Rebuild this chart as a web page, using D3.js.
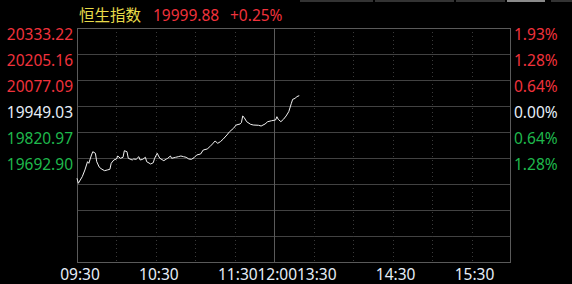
<!DOCTYPE html>
<html>
<head>
<meta charset="utf-8">
<script src="https://cdn.jsdelivr.net/npm/d3@7"></script>
<style>
  html, body { margin: 0; padding: 0; background: #000; }
  svg { display: block; }
  text { font-family: "Noto Sans", "Noto Sans CJK SC", sans-serif; font-size: 15.5px; }
</style>
</head>
<body>
<svg id="chart" width="572" height="284"></svg>
<script>
// index name, last price, change
const indexName = "恒生指数";
const lastPrice = "19999.88";
const lastChange = "+0.25%";

// y tick labels (price side and percent side), top to bottom
const priceTicks = [20333.22, 20205.16, 20077.09, 19949.03, 19820.97, 19692.90];
const pctTicks = ["1.93%", "1.28%", "0.64%", "0.00%", "0.64%", "1.28%"];
const prevClose = 19949.03;

// x tick labels
const timeTicks = ["09:30", "10:30", "11:30", "12:00", "13:30", "14:30", "15:30"];

// intraday series
const times = ["09:30","09:31","09:34","09:36","09:38","09:39","09:41","09:42","09:44","09:45",
  "09:47","09:49","09:51","09:53","09:55","09:56","09:58","10:00","10:01","10:03",
  "10:05","10:06","10:08","10:09","10:12","10:13","10:15","10:17","10:18","10:20",
  "10:22","10:23","10:26","10:28","10:29","10:31","10:32","10:33","10:36","10:38",
  "10:39","10:41","10:42","10:45","10:47","10:49","10:51","10:53","10:55","10:57",
  "10:59","11:01","11:04","11:06","11:09","11:11","11:13","11:15","11:17","11:19",
  "11:21","11:24","11:26","11:29","11:31","11:34","11:35","11:36","11:37","11:39",
  "11:42","11:44","11:48","11:50","11:53","11:55","11:58","13:01","13:02","13:03",
  "13:05","13:07","13:09","13:11","13:13","13:14","13:16","13:17","13:19"];
const prices = [19592.95,19568.33,19600.83,19633.83,19674.70,19666.80,19707.70,19723.90,19716.10,19674.70,
  19647.10,19637.30,19630.40,19633.80,19637.30,19666.80,19683.10,19688.00,19702.80,19691.40,
  19696.40,19728.90,19723.90,19691.40,19683.10,19688.00,19686.50,19699.30,19683.10,19686.50,
  19696.40,19674.70,19663.40,19669.80,19691.40,19716.10,19702.80,19691.40,19679.60,19688.00,
  19691.40,19702.80,19691.40,19696.40,19699.30,19702.80,19699.30,19696.40,19688.00,19686.50,
  19694.40,19707.70,19712.60,19732.30,19737.30,19748.60,19761.90,19776.60,19765.30,19773.20,
  19785.00,19806.20,19822.40,19839.20,19855.40,19860.40,19866.80,19899.80,19893.40,19871.70,
  19858.90,19855.40,19854.00,19850.50,19860.40,19871.70,19876.60,19880.10,19896.30,19883.50,
  19871.70,19883.50,19899.80,19920.90,19962.30,19982.00,19986.90,19994.80,19999.88];

const red = "#f0323c", green = "#1fb84c", neutral = "#e6eef8", yellow = "#e8dc4a";
const gridColor = "#424242", borderColor = "#5a5a5a";

const svg = d3.select("#chart");
const plotLeft = 77, plotRight = 511, plotTop = 28, rowH = 26, rows = 9;
const plotBottom = plotTop + rowH * rows;

// trading minutes since 09:30, lunch break (12:00-13:00) removed
function tradeMinute(t) {
    let p = t.split(":"), m = +p[0] * 60 + +p[1] - 570;
    if (m >= 210) m -= 60;
    return m;
}

const x = d3.scaleLinear().domain([0, 330]).range([plotLeft, plotRight]);
const step = priceTicks[0] - priceTicks[1];
const y = d3.scaleLinear()
    .domain([priceTicks[priceTicks.length - 1] - step, priceTicks[0]])
    .range([plotTop + rowH * 6, plotTop]);

// top tab edges
[[300, 373], [375, 454], [456, 505], [551, 572]].forEach(function (s) {
    svg.append("rect").attr("x", s[0]).attr("y", 0).attr("width", s[1] - s[0]).attr("height", 2).attr("fill", "#333");
});
svg.append("rect").attr("x", 507).attr("y", 0).attr("width", 38).attr("height", 2).attr("fill", "#8a8a8a");

/* horizontal grid lines */
svg.append("g").selectAll("line")
    .data(d3.range(rows + 1))
    .enter().append("line")
    .attr("x1", plotLeft).attr("x2", plotRight)
    .attr("y1", function (i) { return plotTop + i * rowH + 0.5; })
    .attr("y2", function (i) { return plotTop + i * rowH + 0.5; })
    .attr("stroke", gridColor);

/* vertical grid lines, every half hour */
svg.append("g").selectAll("line")
    .data(d3.range(30, 330, 30))
    .enter().append("line")
    .attr("x1", function (d) { return Math.round(x(d)) + 0.5; })
    .attr("x2", function (d) { return Math.round(x(d)) + 0.5; })
    .attr("y1", plotTop).attr("y2", plotBottom)
    .attr("stroke", function (d) { return d === 150 ? borderColor : "#3a3a3a"; })
    .attr("stroke-dasharray", function (d) { return d === 150 ? null : "1,3"; });

svg.append("rect")
    .attr("x", plotLeft + 0.5).attr("y", plotTop + 0.5)
    .attr("width", plotRight - plotLeft - 1).attr("height", plotBottom - plotTop)
    .attr("fill", "none").attr("stroke", borderColor);

/* y labels */
function tickColor(i) { return i < 3 ? red : (i === 3 ? neutral : green); }

svg.append("g").selectAll("text")
    .data(priceTicks)
    .enter().append("text")
    .attr("x", 73).attr("y", function (d) { return y(d) + 12; })
    .attr("text-anchor", "end")
    .attr("fill", function (d, i) { return tickColor(i); })
    .text(function (d) { return d.toFixed(2); });

svg.append("g").selectAll("text")
    .data(pctTicks)
    .enter().append("text")
    .attr("x", 514).attr("y", function (d, i) { return y(priceTicks[i]) + 12; })
    .attr("fill", function (d, i) { return tickColor(i); })
    .text(function (d) { return d; });

/* x labels */
svg.append("g").selectAll("text")
    .data(timeTicks)
    .enter().append("text")
    .attr("x", function (d) { return x(tradeMinute(d)) + 3; })
    .attr("y", 280)
    .attr("text-anchor", "middle")
    .attr("fill", neutral)
    .text(function (d) { return d; });

/* title */
const title = svg.append("text").attr("x", 79).attr("y", 21);
title.append("tspan").attr("fill", yellow).style("font-family", "'Noto Sans CJK SC'").text(indexName);
title.append("tspan").attr("x", 153).attr("fill", red).text(lastPrice);
title.append("tspan").attr("x", 230).attr("fill", red).text(lastChange);

/* price line */
const series = times.map(function (t, i) { return {m: tradeMinute(t), v: prices[i]}; });
svg.append("path")
    .datum(series)
    .attr("fill", "none")
    .attr("stroke", "#f2f2f2")
    .attr("stroke-width", 1)
    .attr("d", d3.line()
        .x(function (d) { return x(d.m); })
        .y(function (d) { return y(d.v); }));
</script>
</body>
</html>
